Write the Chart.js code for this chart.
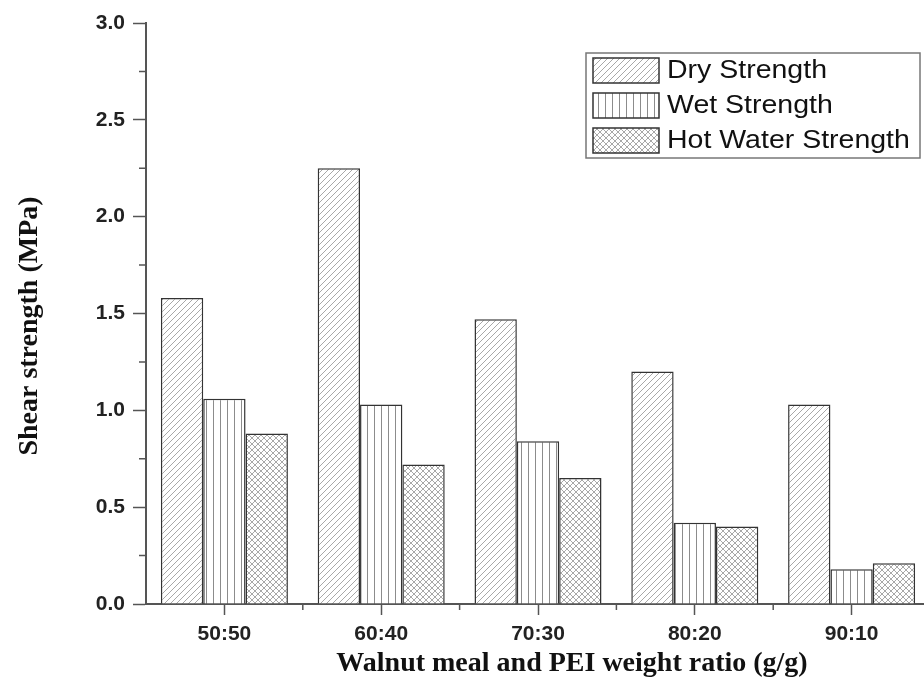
<!DOCTYPE html>
<html>
<head>
<meta charset="utf-8">
<script src="https://cdn.jsdelivr.net/npm/chart.js@4.4.1/dist/chart.umd.min.js"></script>
<style>
  html, body { margin: 0; padding: 0; background: #fff; overflow: hidden; }
  #wrap { width: 940px; height: 681px; }
</style>
</head>
<body>
<div id="wrap"><canvas id="mycanvas" width="940" height="681"></canvas></div>
<script>
var ratios = ["50:50", "60:40", "70:30", "80:20", "90:10"];
var dryStrength = [1.58, 2.25, 1.47, 1.20, 1.03];
var wetStrength = [1.06, 1.03, 0.84, 0.42, 0.18];
var hotWaterStrength = [0.88, 0.72, 0.65, 0.40, 0.21];
var seriesNames = ["Dry Strength", "Wet Strength", "Hot Water Strength"];
var yTicks = [0, 0.5, 1.0, 1.5, 2.0, 2.5, 3.0];
var xTitle = "Walnut meal and PEI weight ratio (g/g)";
var yTitle = "Shear strength (MPa)";

function makePattern(kind) {
  var c = document.createElement("canvas");
  var s = kind == "wet" ? 7 : 6;
  c.width = s; c.height = s;
  var g = c.getContext("2d");
  g.fillStyle = "#fff";
  g.fillRect(0, 0, s, s);
  g.strokeStyle = kind == "wet" ? "#8c8c8c" : "#a8a8a8";
  g.lineWidth = 1;
  g.beginPath();
  if (kind == "dry" || kind == "hot") {
    g.moveTo(-s, s); g.lineTo(s, -s);
    g.moveTo(0, s); g.lineTo(s, 0);
    g.moveTo(0, 2 * s); g.lineTo(2 * s, 0);
  }
  if (kind == "hot") {
    g.moveTo(-s, 0); g.lineTo(s, 2 * s);
    g.moveTo(0, 0); g.lineTo(s, s);
    g.moveTo(0, -s); g.lineTo(2 * s, s);
  }
  if (kind == "wet") {
    g.moveTo(3.5, 0); g.lineTo(3.5, s);
  }
  g.stroke();
  return g.createPattern(c, "repeat");
}

var patterns = [makePattern("dry"), makePattern("wet"), makePattern("hot")];

// minor ticks, axis titles and the framed legend like the original figure
var extras = {
  id: "extras",
  afterDraw: function(chart) {
    var ctx = chart.ctx;
    var x = chart.scales.x, y = chart.scales.y;
    ctx.save();
    ctx.strokeStyle = "#555";
    ctx.lineWidth = 1.5;
    ctx.beginPath();
    for (var i = 0; i < yTicks.length - 1; i++) {
      var py = y.getPixelForValue(yTicks[i] + 0.25);
      ctx.moveTo(x.left - 7, py); ctx.lineTo(x.left, py);
    }
    for (var j = 0; j < ratios.length - 1; j++) {
      var px = (x.getPixelForValue(j) + x.getPixelForValue(j + 1)) / 2;
      ctx.moveTo(px, y.bottom); ctx.lineTo(px, y.bottom + 6);
    }
    ctx.stroke();

    // axis titles
    ctx.fillStyle = "#111";
    ctx.font = "bold 28px 'Liberation Serif', 'Times New Roman', serif";
    ctx.textAlign = "center";
    ctx.textBaseline = "alphabetic";
    ctx.fillText(xTitle, 572, 671);
    ctx.save();
    ctx.translate(37, 326);
    ctx.rotate(-Math.PI / 2);
    ctx.fillText(yTitle, 0, 0);
    ctx.restore();

    // legend
    ctx.strokeStyle = "#777";
    ctx.lineWidth = 1.5;
    ctx.strokeRect(586, 53, 334, 105);
    ctx.textAlign = "left";
    ctx.textBaseline = "middle";
    for (var k = 0; k < seriesNames.length; k++) {
      var top = 58 + k * 35;
      ctx.fillStyle = patterns[k];
      ctx.fillRect(593, top, 66, 25);
      ctx.strokeStyle = "#333";
      ctx.strokeRect(593, top, 66, 25);
      ctx.save();
      ctx.translate(667, top + 13);
      ctx.scale(1.14, 1);
      ctx.font = "25px 'Liberation Sans', Arial, sans-serif";
      ctx.fillStyle = "#111";
      ctx.fillText(seriesNames[k], 0, 0);
      ctx.restore();
    }
    ctx.restore();
  }
};

var chartdata = {
  labels: ratios,
  datasets: [
    { label: seriesNames[0], data: dryStrength, backgroundColor: patterns[0] },
    { label: seriesNames[1], data: wetStrength, backgroundColor: patterns[1] },
    { label: seriesNames[2], data: hotWaterStrength, backgroundColor: patterns[2] }
  ]
};
chartdata.datasets.forEach(function(d) {
  d.borderColor = "#333";
  d.borderWidth = 1.5;
  d.categoryPercentage = 0.81;
  d.barPercentage = 1.0;
});

var tickFont = { family: "'Liberation Sans', Arial, sans-serif", size: 21, weight: "bold" };

var ctx = document.getElementById("mycanvas");
var chart = new Chart(ctx, {
  type: "bar",
  data: chartdata,
  options: {
    responsive: false,
    animation: false,
    layout: { padding: { top: 23, right: 10, left: 0, bottom: 0 } },
    plugins: { legend: { display: false }, tooltip: { enabled: false } },
    scales: {
      x: {
        grid: { display: true, drawOnChartArea: false, offset: false, tickLength: 11, tickColor: "#555", tickWidth: 1.5 },
        border: { color: "#555", width: 2 },
        ticks: { font: tickFont, color: "#222", padding: 7, maxRotation: 0 },
        afterFit: function(s) { s.height = 77; }
      },
      y: {
        min: 0, max: 3,
        grid: { display: true, drawOnChartArea: false, tickLength: 13, tickColor: "#555", tickWidth: 1.5 },
        border: { color: "#555", width: 2 },
        ticks: { stepSize: 0.5, font: tickFont, color: "#222", padding: 8,
          callback: function(v) { return v.toFixed(1); } },
        afterFit: function(s) { s.width = 146; }
      }
    }
  },
  plugins: [extras]
});
</script>
</body>
</html>
